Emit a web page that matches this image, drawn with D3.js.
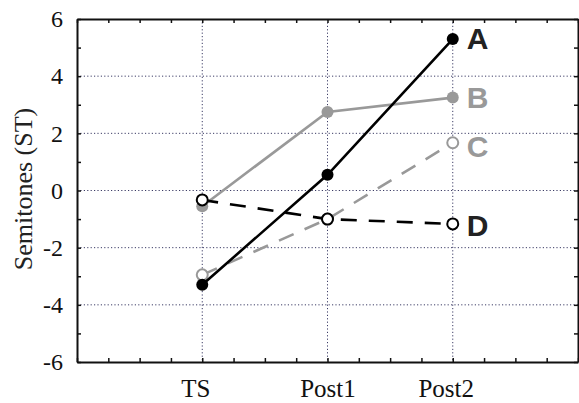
<!DOCTYPE html>
<html>
<head>
<meta charset="utf-8">
<script src="https://cdn.jsdelivr.net/npm/d3@7"></script>
<style>
  body { margin: 0; background: #fff; }
  svg { display: block; }
</style>
</head>
<body>
<svg id="chart" width="579" height="403"></svg>
<script>
(function()
{
    // data
    const categories = ["TS", "Post1", "Post2"];
    const seriesNames = ["A", "B", "C", "D"];
    const valuesA = [-3.3, 0.55, 5.3];
    const valuesB = [-0.55, 2.75, 3.25];
    const valuesC = [-2.95, -1.0, 1.67];
    const valuesD = [-0.33, -1.0, -1.17];
    const yTicks = [-6, -5, -4, -3, -2, -1, 0, 1, 2, 3, 4, 5, 6];
    const yGrid = [-4, -2, 0, 2, 4];

    const left = 77, right = 578, top = 19, bottom = 362;

    var svg = d3.select("#chart");

    // categories sit at 1,2,3 on a 0..4 axis
    var x = d3.scaleLinear().domain([0, categories.length + 1]).range([left, right]);
    var y = d3.scaleLinear().domain([-6, 6]).range([bottom, top]);

    var xMinor = d3.range(0, 4.001, 0.25);
    var catPos = categories.map(function(d, i) { return i + 1; });

    // dotted grid
    var grid = svg.append("g");
    grid.selectAll("line.h").data(yGrid).enter().append("line")
        .attr("x1", left).attr("x2", right)
        .attr("y1", function(d) { return y(d); })
        .attr("y2", function(d) { return y(d); });
    grid.selectAll("line.v").data(catPos).enter().append("line")
        .attr("x1", function(d) { return x(d); })
        .attr("x2", function(d) { return x(d); })
        .attr("y1", top).attr("y2", bottom);
    grid.selectAll("line")
        .attr("stroke", "#3c3c66")
        .attr("stroke-width", 1)
        .attr("stroke-dasharray", "1.2,2.2");

    var tickFont = "'Liberation Serif', 'Times New Roman', serif";

    // axes with inward ticks
    var yAxis = d3.axisLeft(y).tickValues(yTicks)
        .tickFormat(function(d) { return d % 2 === 0 ? d : ""; })
        .tickSizeInner(-4).tickSizeOuter(0).tickPadding(14);
    var gy = svg.append("g").attr("transform", "translate(" + left + ",0)").call(yAxis);

    var yAxisR = d3.axisRight(y).tickValues(yTicks).tickFormat("")
        .tickSizeInner(-4).tickSizeOuter(0);
    var gyr = svg.append("g").attr("transform", "translate(" + right + ",0)").call(yAxisR);

    var xAxis = d3.axisBottom(x).tickValues(xMinor)
        .tickFormat(function(d) {
            var i = catPos.indexOf(d);
            return i >= 0 ? categories[i] : "";
        })
        .tickSizeInner(-4).tickSizeOuter(0).tickPadding(17);
    var gx = svg.append("g").attr("transform", "translate(0," + bottom + ")").call(xAxis);

    var xAxisT = d3.axisTop(x).tickValues(xMinor).tickFormat("")
        .tickSizeInner(-4).tickSizeOuter(0);
    var gxt = svg.append("g").attr("transform", "translate(0," + top + ")").call(xAxisT);

    [gy, gyr, gx, gxt].forEach(function(g) {
        g.select(".domain").attr("stroke", "#111").attr("stroke-width", 2);
        g.selectAll(".tick line").attr("stroke", "#111").attr("stroke-width", 1.5);
    });
    gy.selectAll(".tick text").attr("font-family", tickFont).attr("font-size", 24).attr("fill", "#111");
    gx.selectAll(".tick text").attr("font-family", tickFont).attr("font-size", 25).attr("fill", "#111")
        .attr("dx", function(d) { return d === 2 ? 0 : -7; });

    svg.append("text")
        .attr("transform", "translate(32,189) rotate(-90)")
        .attr("text-anchor", "middle")
        .attr("font-family", tickFont)
        .attr("font-size", 26)
        .attr("fill", "#222")
        .text("Semitones (ST)");

    // series
    var allValues = [valuesA, valuesB, valuesC, valuesD];
    var styles = [
        { color: "#000", dash: null, open: false },
        { color: "#999", dash: null, open: false },
        { color: "#999", dash: "16,12", open: true },
        { color: "#000", dash: "16,12", open: true }
    ];
    var labelDy = [10, 10, 14, 12];

    var line = d3.line()
        .x(function(d, i) { return x(i + 1); })
        .y(function(d) { return y(d); });

    // draw B, C, A, D so the black lines sit on top
    [1, 2, 0, 3].forEach(function(k) {
        var vals = allValues[k], st = styles[k];
        var g = svg.append("g");
        g.append("path")
            .datum(vals)
            .attr("d", line)
            .attr("fill", "none")
            .attr("stroke", st.color)
            .attr("stroke-width", 2.6)
            .attr("stroke-dasharray", st.dash);
        g.selectAll("circle").data(vals).enter().append("circle")
            .attr("cx", function(d, i) { return x(i + 1); })
            .attr("cy", function(d) { return y(d); })
            .attr("r", st.open ? 5.5 : 6)
            .attr("fill", st.open ? "#fff" : st.color)
            .attr("stroke", st.color)
            .attr("stroke-width", st.open ? 2 : 0);
        g.append("text")
            .attr("x", x(categories.length) + 14)
            .attr("y", y(vals[vals.length - 1]) + labelDy[k])
            .attr("font-family", "'Liberation Sans', Arial, sans-serif")
            .attr("font-weight", "bold")
            .attr("font-size", 30)
            .attr("fill", k === 1 || k === 2 ? "#999" : "#222")
            .text(seriesNames[k]);
    });
})();
</script>
</body>
</html>
